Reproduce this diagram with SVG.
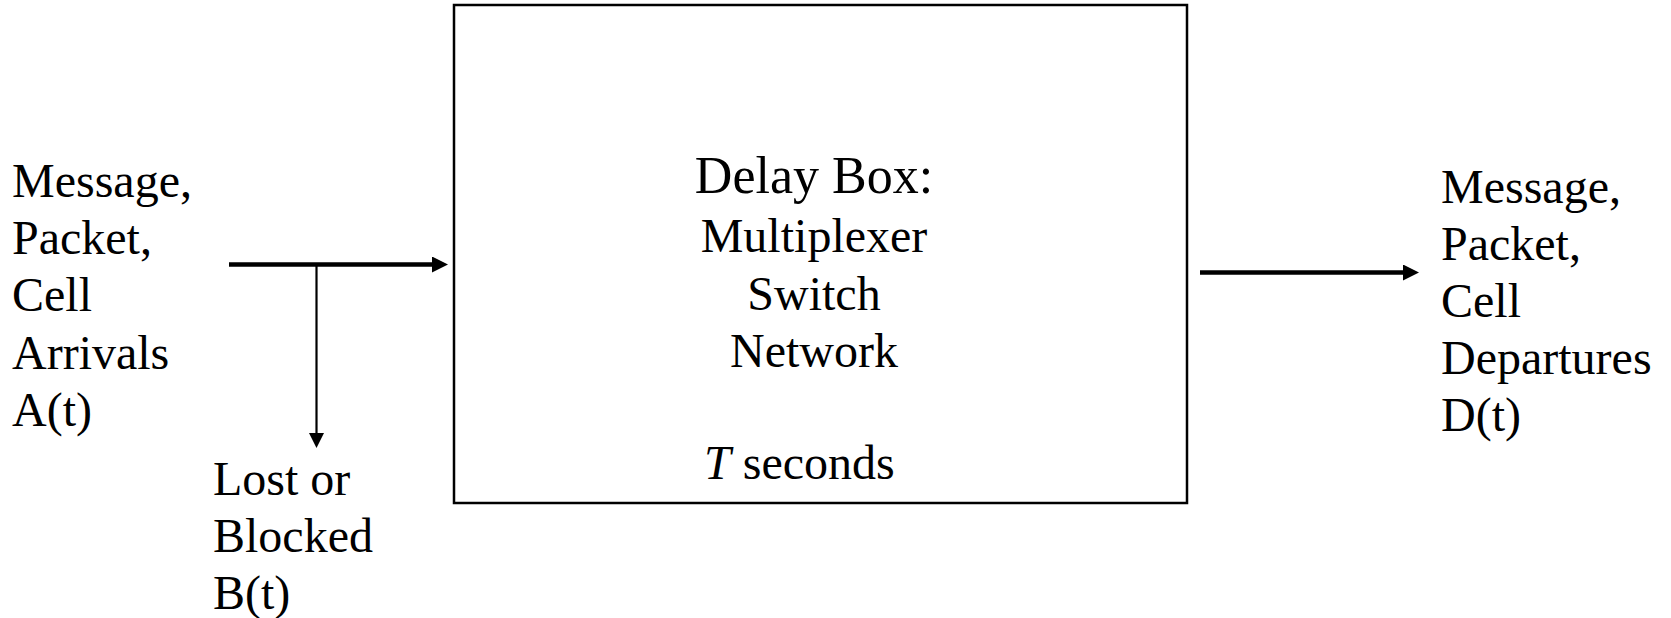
<svg xmlns="http://www.w3.org/2000/svg" width="1671" height="618" viewBox="0 0 1671 618">
  <style>
    text { font-family: "Liberation Serif", "Times New Roman", serif; font-size: 48px; fill: #000; }
    .big { font-size: 52px; }
    .mid { text-anchor: middle; }
    .heavy { stroke: #000; stroke-width: 4.5; fill: none; }
    .thin { stroke: #000; stroke-width: 2.2; fill: none; }
    .box { fill: #fff; stroke: #000; stroke-width: 2.5; }
  </style>
  <defs>
    <marker id="headHeavy" viewBox="0 0 16 16" refX="4" refY="8" markerWidth="16" markerHeight="16" markerUnits="userSpaceOnUse" orient="auto">
      <path d="M0,0 L16,8 L0,16 Z" fill="#000"/>
    </marker>
    <marker id="headThin" viewBox="0 0 15 15" refX="4" refY="7.5" markerWidth="15" markerHeight="15" markerUnits="userSpaceOnUse" orient="auto">
      <path d="M0,0 L15,7.5 L0,15 Z" fill="#000"/>
    </marker>
  </defs>
  <rect width="1671" height="618" fill="#fff"/>

  <!-- central delay element -->
  <g id="delay-box">
    <rect class="box" x="454" y="5" width="733" height="498"/>
    <text class="big mid" x="814" y="193">Delay Box:</text>
    <text class="mid" x="814" y="252">Multiplexer</text>
    <text class="mid" x="814" y="310">Switch</text>
    <text class="mid" x="814" y="367">Network</text>
    <text x="704" y="479"><tspan font-style="italic">T</tspan> seconds</text>
  </g>

  <!-- input stream label -->
  <g id="arrivals">
    <text x="12" y="197">Message,</text>
    <text x="12" y="254">Packet,</text>
    <text x="12" y="311">Cell</text>
    <text x="12" y="369">Arrivals</text>
    <text x="12" y="426">A(t)</text>
  </g>

  <!-- dropped traffic label -->
  <g id="blocked">
    <text x="213" y="495">Lost or</text>
    <text x="213" y="552">Blocked</text>
    <text x="213" y="609">B(t)</text>
  </g>

  <!-- output stream label -->
  <g id="departures">
    <text x="1441" y="203">Message,</text>
    <text x="1441" y="260">Packet,</text>
    <text x="1441" y="317">Cell</text>
    <text x="1441" y="374">Departures</text>
    <text x="1441" y="431">D(t)</text>
  </g>

  <g id="connectors">
    <line class="heavy" x1="229" y1="264.5" x2="436" y2="264.5" marker-end="url(#headHeavy)"/>
    <line class="thin" x1="316.5" y1="266" x2="316.5" y2="437" marker-end="url(#headThin)"/>
    <line class="heavy" x1="1200" y1="272.5" x2="1407" y2="272.5" marker-end="url(#headHeavy)"/>
  </g>
</svg>
